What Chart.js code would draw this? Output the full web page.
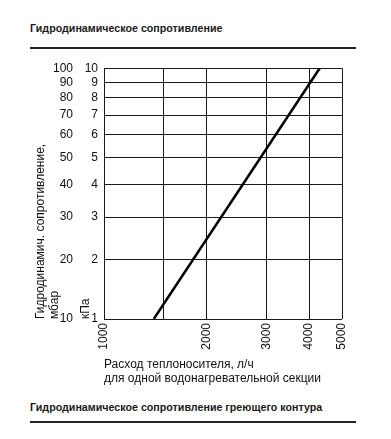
<!DOCTYPE html>
<html lang="ru">
<head>
<meta charset="utf-8">
<title>Гидродинамическое сопротивление</title>
<script src="https://cdn.jsdelivr.net/npm/chart.js@4.4.1/dist/chart.umd.min.js"></script>
<style>
  html, body { margin: 0; background: #fff; }
  body {
    width: 391px; height: 439px; position: relative; overflow: hidden;
    font-family: 'Liberation Sans', Arial, sans-serif; color: #1a1a1a;
  }
  .caption {
    position: absolute; left: 30px; font-size: 10.7px; line-height: 13px;
    font-weight: bold; white-space: nowrap;
  }
  .rule { position: absolute; left: 30px; width: 326px; height: 2px; background: #222; }
  #wrap { position: absolute; left: 0; top: 55px; width: 391px; height: 340px; }
</style>
</head>
<body>
<div class="caption" style="top:22px">Гидродинамическое сопротивление</div>
<div class="rule" style="top:47px"></div>

<div id="wrap"><canvas id="chart" width="391" height="340"></canvas></div>

<div class="caption" style="top:401px">Гидродинамическое сопротивление греющего контура</div>
<div class="rule" style="top:421px"></div>

<script>
'use strict';

// расход теплоносителя, л/ч (логарифмическая ось)
const FLOW_GRID   = [1000, 1500, 2000, 3000, 4000, 5000];
const FLOW_LABELS = ['1000', '', '2000', '3000', '4000', '5000'];

// сопротивление: мбар слева, то же самое в кПа рядом
const MBAR_TICKS = [10, 20, 30, 40, 50, 60, 70, 80, 90, 100];
const KPA_TICKS  = [1, 2, 3, 4, 5, 6, 7, 8, 9, 10];

// кривая для одной секции
const CURVE_FLOW = [1400, 4300];
const CURVE_MBAR = [10, 100];

// на бланке шкала сопротивления идёт по log(p + 10 мбар)
const yPos = mbar => Math.log10(mbar + 10);

const FONT = { family: "'Liberation Sans', Arial, sans-serif", size: 12, lineHeight: 1.2 };
const INK  = '#111';
const GRID = '#1a1a1a';

const Y_MIN = yPos(MBAR_TICKS[0]);
const Y_MAX = yPos(MBAR_TICKS[MBAR_TICKS.length - 1]);

function setTicks(values) {
  return scale => { scale.ticks = values.map(v => ({ value: v })); };
}

const ctx = document.getElementById('chart').getContext('2d');

new Chart(ctx, {
  type: 'scatter',
  data: {
    datasets: [{
      data: CURVE_FLOW.map((f, i) => ({ x: f, y: yPos(CURVE_MBAR[i]) })),
      showLine: true,
      borderColor: '#000',
      borderWidth: 2.5,
      pointRadius: 0,
      xAxisID: 'x',
      yAxisID: 'y',
    }],
  },
  options: {
    responsive: false,
    animation: false,
    devicePixelRatio: 1,
    layout: { padding: { left: 33, top: 12, right: 49, bottom: 9 } },
    plugins: { legend: { display: false }, tooltip: { enabled: false } },
    scales: {
      x: {
        type: 'logarithmic',
        min: 1000, max: 5000,
        afterBuildTicks: setTicks(FLOW_GRID),
        afterFit: s => { s.height = 67; },
        grid: { color: GRID, lineWidth: 1, drawTicks: false },
        border: { display: false },
        ticks: {
          autoSkip: false, minRotation: 90, maxRotation: 90, padding: 4,
          color: INK, font: FONT,
          callback: (v, i) => FLOW_LABELS[i],
        },
        title: {
          display: true, align: 'start', padding: 0, color: INK, font: FONT,
          text: ['Расход теплоносителя, л/ч', 'для одной водонагревательной секции'],
        },
      },
      y: {
        position: 'left', weight: 2,
        min: Y_MIN, max: Y_MAX,
        afterBuildTicks: setTicks(MBAR_TICKS.map(yPos)),
        afterFit: s => { s.width = 45; },
        grid: { color: GRID, lineWidth: 1, drawTicks: false },
        border: { display: false },
        ticks: {
          autoSkip: false, padding: 5, color: INK, font: FONT,
          callback: (v, i) => MBAR_TICKS[i],
        },
        title: {
          display: true, align: 'start', padding: 0, color: INK, font: FONT,
          text: ['Гидродинамич. сопротивление,', 'мбар'],
        },
      },
      kpa: {
        position: 'left', weight: 1,
        min: Y_MIN, max: Y_MAX,
        afterBuildTicks: setTicks(MBAR_TICKS.map(yPos)),
        afterFit: s => { s.width = 26; },
        grid: { display: false, drawTicks: false },
        border: { display: false },
        ticks: {
          autoSkip: false, padding: 6, color: INK, font: FONT,
          callback: (v, i) => KPA_TICKS[i],
        },
        title: {
          display: true, align: 'start', padding: 0, color: INK, font: FONT,
          text: 'кПа',
        },
      },
    },
  },
});
</script>
</body>
</html>
